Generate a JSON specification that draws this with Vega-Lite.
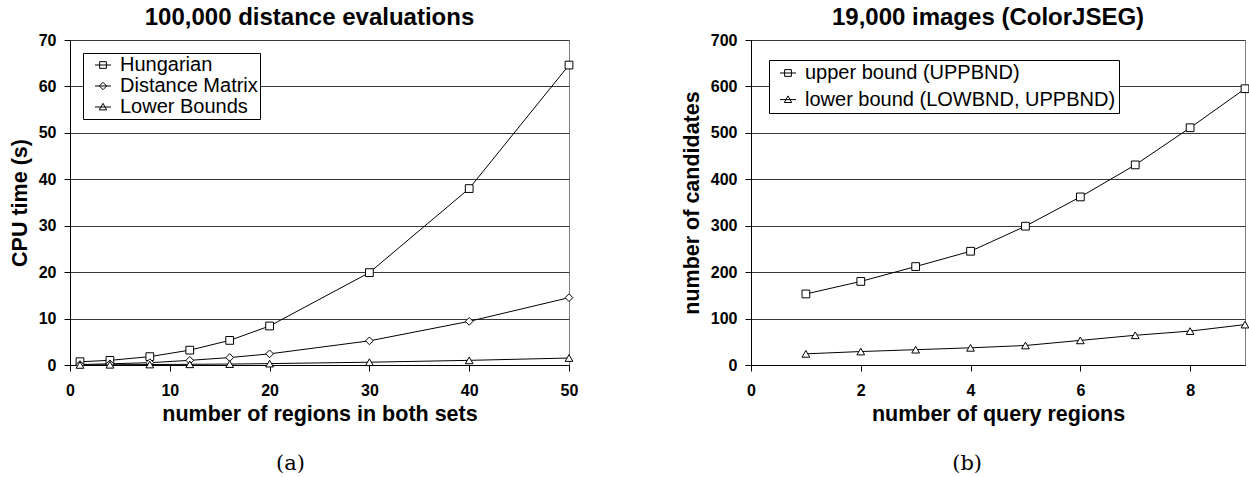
{
  "$schema": "https://vega.github.io/schema/vega-lite/v6.json",
  "padding": {"left": 8, "top": 5, "right": 2, "bottom": 2},
  "spacing": 101,
  "config": {
    "font": "Liberation Sans",
    "view": {"stroke": "#808080", "strokeWidth": 1},
    "axis": {
      "labelFont": "Liberation Sans", "labelFontSize": 16, "labelFontWeight": "bold", "labelColor": "black",
      "titleFont": "Liberation Sans", "titleFontSize": 21.5, "titleFontWeight": "bold", "titleColor": "black",
      "domainColor": "black", "domainWidth": 1, "tickColor": "black", "tickSize": 6, "tickWidth": 1,
      "labelPadding": 8, "gridColor": "#383838", "gridOpacity": 1, "gridWidth": 1
    },
    "axisX": {"grid": false, "labelPadding": 11, "titlePadding": 5, "labelFlush": false},
    "axisY": {"grid": true, "titlePadding": 7},
    "legend": {
      "labelFont": "Liberation Sans", "labelFontSize": 20, "labelColor": "black", "labelLimit": 500,
      "fillColor": "white", "strokeColor": "black", "strokeWidth": 1,
      "symbolStrokeColor": "black", "symbolStrokeWidth": 1, "symbolFillColor": "transparent",
      "symbolSize": 256, "labelOffset": 7, "symbolOpacity": 1
    },
    "title": {
      "font": "Liberation Sans", "fontSize": 24, "fontWeight": "bold", "color": "black",
      "baseline": "alphabetic", "offset": 2, "anchor": "middle", "frame": "group", "dx": -10
    }
  },
  "hconcat": [
    {
      "title": {"text": "(a)", "orient": "bottom", "font": "DejaVu Serif", "fontSize": 21, "fontWeight": "normal", "frame": "bounds", "anchor": "middle", "baseline": "top", "offset": 28, "dx": -3},
      "vconcat": [
        {
          "title": {"text": "100,000 distance evaluations"},
          "width": 499,
          "height": 325,
          "data": {"values": [
            {"n": 1, "series": "Hungarian", "t": 0.7},
            {"n": 4, "series": "Hungarian", "t": 1.0},
            {"n": 8, "series": "Hungarian", "t": 1.8},
            {"n": 12, "series": "Hungarian", "t": 3.2},
            {"n": 16, "series": "Hungarian", "t": 5.3},
            {"n": 20, "series": "Hungarian", "t": 8.4},
            {"n": 30, "series": "Hungarian", "t": 19.9},
            {"n": 40, "series": "Hungarian", "t": 38.0},
            {"n": 50, "series": "Hungarian", "t": 64.6},
            {"n": 1, "series": "Distance Matrix", "t": 0.1},
            {"n": 4, "series": "Distance Matrix", "t": 0.25},
            {"n": 8, "series": "Distance Matrix", "t": 0.5},
            {"n": 12, "series": "Distance Matrix", "t": 1.0},
            {"n": 16, "series": "Distance Matrix", "t": 1.6},
            {"n": 20, "series": "Distance Matrix", "t": 2.4},
            {"n": 30, "series": "Distance Matrix", "t": 5.2},
            {"n": 40, "series": "Distance Matrix", "t": 9.4},
            {"n": 50, "series": "Distance Matrix", "t": 14.5},
            {"n": 1, "series": "Lower Bounds", "t": 0.02},
            {"n": 4, "series": "Lower Bounds", "t": 0.05},
            {"n": 8, "series": "Lower Bounds", "t": 0.1},
            {"n": 12, "series": "Lower Bounds", "t": 0.15},
            {"n": 16, "series": "Lower Bounds", "t": 0.2},
            {"n": 20, "series": "Lower Bounds", "t": 0.3},
            {"n": 30, "series": "Lower Bounds", "t": 0.6},
            {"n": 40, "series": "Lower Bounds", "t": 1.0},
            {"n": 50, "series": "Lower Bounds", "t": 1.5}
          ]},
          "encoding": {
            "x": {"field": "n", "type": "quantitative", "title": "number of regions in both sets",
                  "scale": {"domain": [0, 50], "nice": false},
                  "axis": {"values": [0, 10, 20, 30, 40, 50]}},
            "y": {"field": "t", "type": "quantitative", "title": "CPU time (s)",
                  "scale": {"domain": [0, 70], "nice": false},
                  "axis": {"values": [0, 10, 20, 30, 40, 50, 60, 70]}}
          },
          "layer": [
            {"mark": {"type": "line", "color": "black", "strokeWidth": 1},
             "encoding": {"detail": {"field": "series"}}},
            {"mark": {"type": "point", "filled": true, "fill": "white", "stroke": "black", "strokeWidth": 1, "size": 60, "opacity": 1},
             "encoding": {"shape": {"field": "series", "type": "nominal",
               "scale": {"domain": ["Hungarian", "Distance Matrix", "Lower Bounds"], "range": ["square", "diamond", "triangle-up"]},
               "legend": null}}},
            {"mark": {"type": "point", "filled": false, "stroke": "black", "strokeWidth": 1, "size": 256, "opacity": 0},
             "encoding": {"shape": {"field": "series", "type": "nominal",
               "scale": {"domain": ["Hungarian", "Distance Matrix", "Lower Bounds"],
                         "range": ["M-1,0H1M-0.42,-0.42H0.42V0.42H-0.42Z", "M-1,0H1M0,-0.46L0.46,0L0,0.46L-0.46,0Z", "M-1,0H1M0,-0.46L0.46,0.36H-0.46Z"]},
               "legend": {"title": null, "orient": "none", "legendX": 13, "legendY": 13, "padding": 2, "rowPadding": 1, "symbolOffset": 8,
                          "encode": {"symbols": {"update": {"opacity": {"value": 1}, "strokeOpacity": {"value": 1}}}}}}}}
          ],
          "resolve": {"scale": {"shape": "independent"}, "legend": {"shape": "independent"}}
        }
      ]
    },
    {
      "title": {"text": "(b)", "orient": "bottom", "font": "DejaVu Serif", "fontSize": 21, "fontWeight": "normal", "frame": "bounds", "anchor": "middle", "baseline": "top", "offset": 28, "dx": 0},
      "vconcat": [
        {
          "title": {"text": "19,000 images (ColorJSEG)"},
          "width": 494,
          "height": 325,
          "data": {"values": [
            {"q": 1, "series": "upper bound (UPPBND)", "c": 153},
            {"q": 2, "series": "upper bound (UPPBND)", "c": 180},
            {"q": 3, "series": "upper bound (UPPBND)", "c": 212},
            {"q": 4, "series": "upper bound (UPPBND)", "c": 245},
            {"q": 5, "series": "upper bound (UPPBND)", "c": 299},
            {"q": 6, "series": "upper bound (UPPBND)", "c": 362},
            {"q": 7, "series": "upper bound (UPPBND)", "c": 431},
            {"q": 8, "series": "upper bound (UPPBND)", "c": 511},
            {"q": 9, "series": "upper bound (UPPBND)", "c": 595},
            {"q": 1, "series": "lower bound (LOWBND, UPPBND)", "c": 24},
            {"q": 2, "series": "lower bound (LOWBND, UPPBND)", "c": 29},
            {"q": 3, "series": "lower bound (LOWBND, UPPBND)", "c": 33},
            {"q": 4, "series": "lower bound (LOWBND, UPPBND)", "c": 37},
            {"q": 5, "series": "lower bound (LOWBND, UPPBND)", "c": 42},
            {"q": 6, "series": "lower bound (LOWBND, UPPBND)", "c": 53},
            {"q": 7, "series": "lower bound (LOWBND, UPPBND)", "c": 64},
            {"q": 8, "series": "lower bound (LOWBND, UPPBND)", "c": 73},
            {"q": 9, "series": "lower bound (LOWBND, UPPBND)", "c": 87}
          ]},
          "encoding": {
            "x": {"field": "q", "type": "quantitative", "title": "number of query regions",
                  "scale": {"domain": [0, 9], "nice": false},
                  "axis": {"values": [0, 2, 4, 6, 8]}},
            "y": {"field": "c", "type": "quantitative", "title": "number of candidates",
                  "scale": {"domain": [0, 700], "nice": false},
                  "axis": {"values": [0, 100, 200, 300, 400, 500, 600, 700]}}
          },
          "layer": [
            {"mark": {"type": "line", "color": "black", "strokeWidth": 1},
             "encoding": {"detail": {"field": "series"}}},
            {"mark": {"type": "point", "filled": true, "fill": "white", "stroke": "black", "strokeWidth": 1, "size": 60, "opacity": 1},
             "encoding": {"shape": {"field": "series", "type": "nominal",
               "scale": {"domain": ["upper bound (UPPBND)", "lower bound (LOWBND, UPPBND)"], "range": ["square", "triangle-up"]},
               "legend": null}}},
            {"mark": {"type": "point", "filled": false, "stroke": "black", "strokeWidth": 1, "size": 256, "opacity": 0},
             "encoding": {"shape": {"field": "series", "type": "nominal",
               "scale": {"domain": ["upper bound (UPPBND)", "lower bound (LOWBND, UPPBND)"],
                         "range": ["M-1,0H1M-0.42,-0.42H0.42V0.42H-0.42Z", "M-1,0H1M0,-0.46L0.46,0.36H-0.46Z"]},
               "legend": {"title": null, "orient": "none", "legendX": 18, "legendY": 20, "padding": 3, "rowPadding": 6.6, "symbolOffset": 6,
                          "encode": {"symbols": {"update": {"opacity": {"value": 1}, "strokeOpacity": {"value": 1}}}}}}}}
          ],
          "resolve": {"scale": {"shape": "independent"}, "legend": {"shape": "independent"}}
        }
      ]
    }
  ]
}
